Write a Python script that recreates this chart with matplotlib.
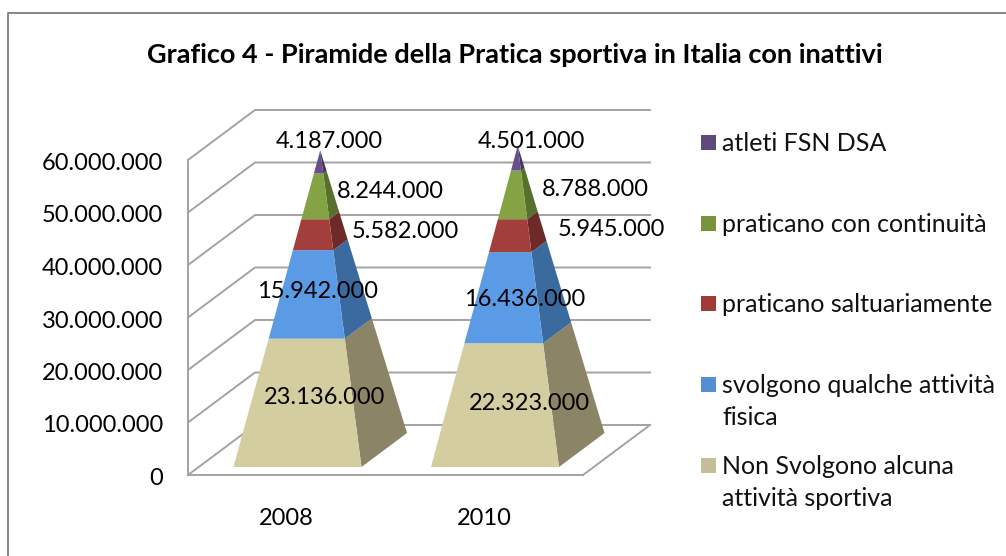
import matplotlib
matplotlib.use("Agg")
import numpy as np
import matplotlib.pyplot as plt
from matplotlib.lines import Line2D
from matplotlib.patches import Polygon, Rectangle
from matplotlib.transforms import ScaledTranslation

plt.rcParams["font.family"] = ["Lato", "DejaVu Sans"]

# Data
years = ["2008", "2010"]
non_svolgono = [23136000, 22323000]
qualche_attivita = [15942000, 16436000]
saltuariamente = [5582000, 5945000]
continuita = [8244000, 8788000]
atleti = [4187000, 4501000]

series_names = [
    "Non Svolgono alcuna\nattività sportiva",
    "svolgono qualche attività\nfisica",
    "praticano saltuariamente",
    "praticano con continuità",
    "atleti FSN DSA",
]
y_ticks = [0, 10000000, 20000000, 30000000, 40000000, 50000000, 60000000]

# Styles, bottom layer first
front_colors = ["#D3CDA0", "#5B9BE5", "#A23F3C", "#84A344", "#67508A"]
side_colors = ["#8C8467", "#3A6A9E", "#6E2A28", "#57702D", "#463660"]
legend_colors = ["#C4BD97", "#558ED5", "#A23B38", "#77933C", "#604A7B"]
grid_color = "#A3A3A3"
NUM_FONT = 17
TEXT_FONT = 18
TITLE_FONT = 19.5

W, H = 1006, 556
fig = plt.figure(figsize=(W / 100, H / 100), dpi=100)


def fx(x):
    return x / W


def fy(y):
    return 1 - y / H


# plot area = front plane of the 3D box
ax_l, ax_r, ax_t, ax_b = 188, 583, 160, 475
ax = fig.add_axes([fx(ax_l), fy(ax_b), fx(ax_r - ax_l), fy(ax_t) - fy(ax_b)])
ymax = y_ticks[-1]
ax.set_xlim(0, ax_r - ax_l)
ax.set_ylim(0, ymax)
ax.patch.set_alpha(0)

units_per_px = ymax / (ax_b - ax_t)
depth_x, depth_y = 67, 50  # wall offset in pixels


def project(x, depth, v):
    return x + depth * depth_x, v + depth * depth_y * units_per_px


# walls and floor
width = ax_r - ax_l
for v in y_ticks:
    xs, ys = zip(project(0, 0, v), project(0, 1, v), project(width, 1, v))
    ax.plot(xs, ys, color=grid_color, lw=1.4, clip_on=False, zorder=1)
xs, ys = zip(project(width, 0, 0), project(width, 1, 0))
ax.plot(xs, ys, color=grid_color, lw=1.4, clip_on=False, zorder=1)

# pyramids
cat_x = [width * 0.25, width * 0.75]
half_w = 64
d_front, d_back = 0.16, 0.84
layers = np.array([non_svolgono, qualche_attivita, saltuariamente, continuita, atleti], dtype=float)

for i, cx in enumerate(cat_x):
    total = layers[:, i].sum()
    apex = np.array(project(cx, 0.5, total))
    fl = np.array(project(cx - half_w, d_front, 0))
    fr = np.array(project(cx + half_w, d_front, 0))
    br = np.array(project(cx + half_w, d_back, 0))
    cum = 0
    for j in range(len(layers)):
        t0 = cum / total
        cum += layers[j, i]
        t1 = cum / total
        front = [fl + (apex - fl) * t0, fr + (apex - fr) * t0, fr + (apex - fr) * t1, fl + (apex - fl) * t1]
        side = [fr + (apex - fr) * t0, br + (apex - br) * t0, br + (apex - br) * t1, fr + (apex - fr) * t1]
        ax.add_patch(Polygon(side, closed=True, fc=side_colors[j], ec="none", clip_on=False, zorder=3))
        ax.add_patch(Polygon(front, closed=True, fc=front_colors[j], ec="none", clip_on=False, zorder=3))

# axes
for s in ["top", "right"]:
    ax.spines[s].set_visible(False)
for s in ["left", "bottom"]:
    ax.spines[s].set_color(grid_color)
    ax.spines[s].set_linewidth(1.4)
ax.set_yticks(y_ticks)
ax.set_yticklabels([f"{v:,}".replace(",", ".") for v in y_ticks], fontsize=NUM_FONT, color="black")
ax.set_xticks(cat_x)
ax.set_xticklabels(years, fontsize=NUM_FONT, color="black")
ax.tick_params(axis="y", length=0, pad=18)
ax.tick_params(axis="x", length=0, pad=24)

# tick labels sit a little under their gridline in the original
shift = ScaledTranslation(0, -1.5 / 100, fig.dpi_scale_trans)
for label in ax.get_yticklabels():
    label.set_transform(label.get_transform() + shift)

# value labels, placed by hand like in the original
label_pos = [
    [(325, 398), (318, 292), (405, 231), (390, 191), (329, 142)],
    [(529, 404), (525, 300), (611, 230), (595, 190), (531, 142)],
]
for i in range(len(years)):
    for j in range(len(layers)):
        x, y = label_pos[i][j]
        fig.text(fx(x), fy(y), f"{int(layers[j, i]):,}".replace(",", "."), fontsize=NUM_FONT,
                 ha="center", va="center", color="black", zorder=5)

# legend
legend_y = [465, 384.5, 303.5, 223.5, 142.5]
for name, c, y in zip(series_names, legend_colors, legend_y):
    fig.add_artist(Rectangle((fx(701), fy(y + 7.5)), 15 / W, 15 / H, fc=c, ec="none",
                             transform=fig.transFigure))
    for k, line in enumerate(name.split("\n")):
        fig.text(fx(722), fy(y + 1 + k * 32), line, fontsize=TEXT_FONT, ha="left", va="center", color="#111111")

# title and chart border
fig.text(fx(515), fy(55), "Grafico 4 - Piramide della Pratica sportiva in Italia con inattivi",
         fontsize=TITLE_FONT, fontweight="bold", ha="center", va="center", color="black")
fig.add_artist(Line2D([fx(7.5), fx(7.5), 1], [0, fy(13), fy(13)], color="#868686", lw=1.4,
                      transform=fig.transFigure))

fig.savefig("out.png", dpi=100)
